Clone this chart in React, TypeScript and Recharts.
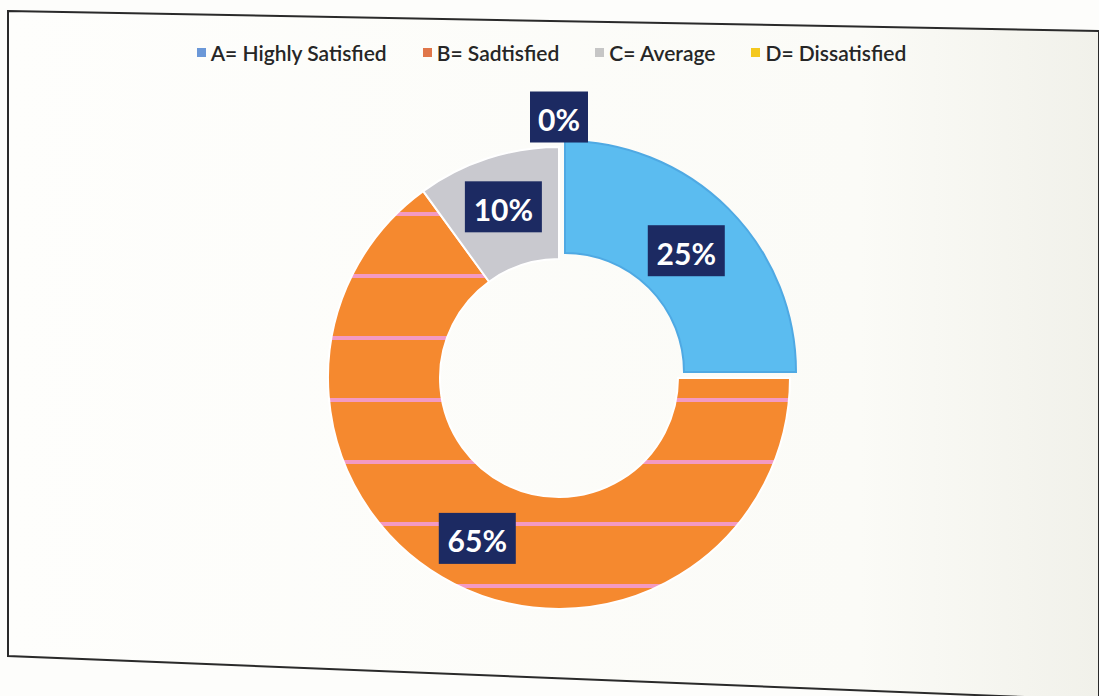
import React from "react"
import { PieChart, Pie, Cell, Legend } from "recharts"

const CATEGORIES = ["A= Highly Satisfied", "B= Sadtisfied", "C= Average", "D= Dissatisfied"]
const SHARES = [25, 65, 10, 0]

const SLICE_COLORS = ["#5bbcf0", "url(#orangeStripes)", "#c9c9cf", "#f5c518"]
const LEGEND_COLORS = ["#6b98d8", "#e0764a", "#c6c6c6", "#f4c81e"]

const data = CATEGORIES.map((name, i) => ({ name, value: SHARES[i] }))

const RADIAN = Math.PI / 180

// dark navy boxes sitting on each ring segment, the empty slice gets its box outside the ring
const renderLabel = (props: any) => {
  const { cx, cy, midAngle, outerRadius, value } = props
  const r = value === 0 ? outerRadius + 30 : 180
  const x = cx + r * Math.cos(-midAngle * RADIAN)
  const y = cy + r * Math.sin(-midAngle * RADIAN)
  const text = `${value}%`
  const w = text.length * 19 + 20
  const h = 51
  return (
    <g>
      <rect x={x - w / 2} y={y - h / 2} width={w} height={h} fill="#1c2a62" />
      <text
        x={x}
        y={y + 2}
        fill="#ffffff"
        textAnchor="middle"
        dominantBaseline="central"
        fontFamily="Lato, 'Open Sans', sans-serif"
        fontWeight={700}
        fontSize={30}
      >
        {text}
      </text>
    </g>
  )
}

const renderLegend = (props: any) => {
  const items = (props.payload || []).filter((p: any) => p.type !== "none")
  return (
    <div style={{ display: "flex", justifyContent: "center", gap: 36, paddingLeft: 4 }}>
      {items.map((entry: any, i: number) => (
        <div key={`legend-${i}`} style={{ display: "flex", alignItems: "center" }}>
          <span
            style={{
              display: "inline-block",
              width: 9,
              height: 9,
              marginRight: 5,
              background: LEGEND_COLORS[i],
            }}
          />
          <span style={{ fontFamily: "Lato, sans-serif", fontSize: 21, fontWeight: 600, color: "#262626" }}>
            {entry.value}
          </span>
        </div>
      ))}
    </div>
  )
}

export default function App() {
  return (
    <div style={{ position: "absolute", left: 0, top: 0, width: 1099, height: 696, background: "#fdfdfb", overflow: "hidden" }}>
      <svg width={1099} height={696} style={{ position: "absolute", left: 0, top: 0 }}>
        <defs>
          <linearGradient id="paper" x1="0" y1="0" x2="1" y2="0">
            <stop offset="0%" stopColor="#fefefc" />
            <stop offset="78%" stopColor="#fbfbf7" />
            <stop offset="100%" stopColor="#f1f1ea" />
          </linearGradient>
          <pattern id="orangeStripes" patternUnits="userSpaceOnUse" width={1099} height={62}>
            <rect x={0} y={0} width={1099} height={62} fill="#f5892f" />
            <rect x={0} y={26} width={1099} height={4} fill="#f39ac2" />
          </pattern>
        </defs>
        <polygon points="8,11 1099,31 1099,700 8,656" fill="url(#paper)" stroke="#2a2a2a" strokeWidth={2} />
      </svg>
      <div style={{ position: "absolute", left: 0, top: 0 }}>
        <PieChart width={1099} height={696}>
          <Legend
            verticalAlign="top"
            align="center"
            wrapperStyle={{ top: 40, left: 0, width: 1099 }}
            content={renderLegend}
          />
          <Pie
            data={data}
            dataKey="value"
            nameKey="name"
            cx={554}
            cy={348}
            innerRadius={119}
            outerRadius={231}
            startAngle={90}
            endAngle={-270}
            labelLine={false}
            label={renderLabel}
            stroke="#ffffff"
            strokeWidth={2}
            isAnimationActive={false}
          >
            {data.map((entry, index) => (
              <Cell
                key={`cell-${index}`}
                fill={index === 0 ? "none" : SLICE_COLORS[index]}
                stroke={index === 0 ? "none" : "#ffffff"}
              />
            ))}
          </Pie>
          {/* pulled-out A slice */}
          <Pie
            data={data}
            dataKey="value"
            nameKey="name"
            cx={560}
            cy={342}
            innerRadius={119}
            outerRadius={231}
            startAngle={90}
            endAngle={-270}
            legendType="none"
            label={false}
            isAnimationActive={false}
          >
            {data.map((entry, index) => (
              <Cell
                key={`exp-${index}`}
                fill={index === 0 ? SLICE_COLORS[0] : "none"}
                stroke={index === 0 ? "#4fa9e3" : "none"}
                strokeWidth={2}
              />
            ))}
          </Pie>
        </PieChart>
      </div>
    </div>
  )
}
